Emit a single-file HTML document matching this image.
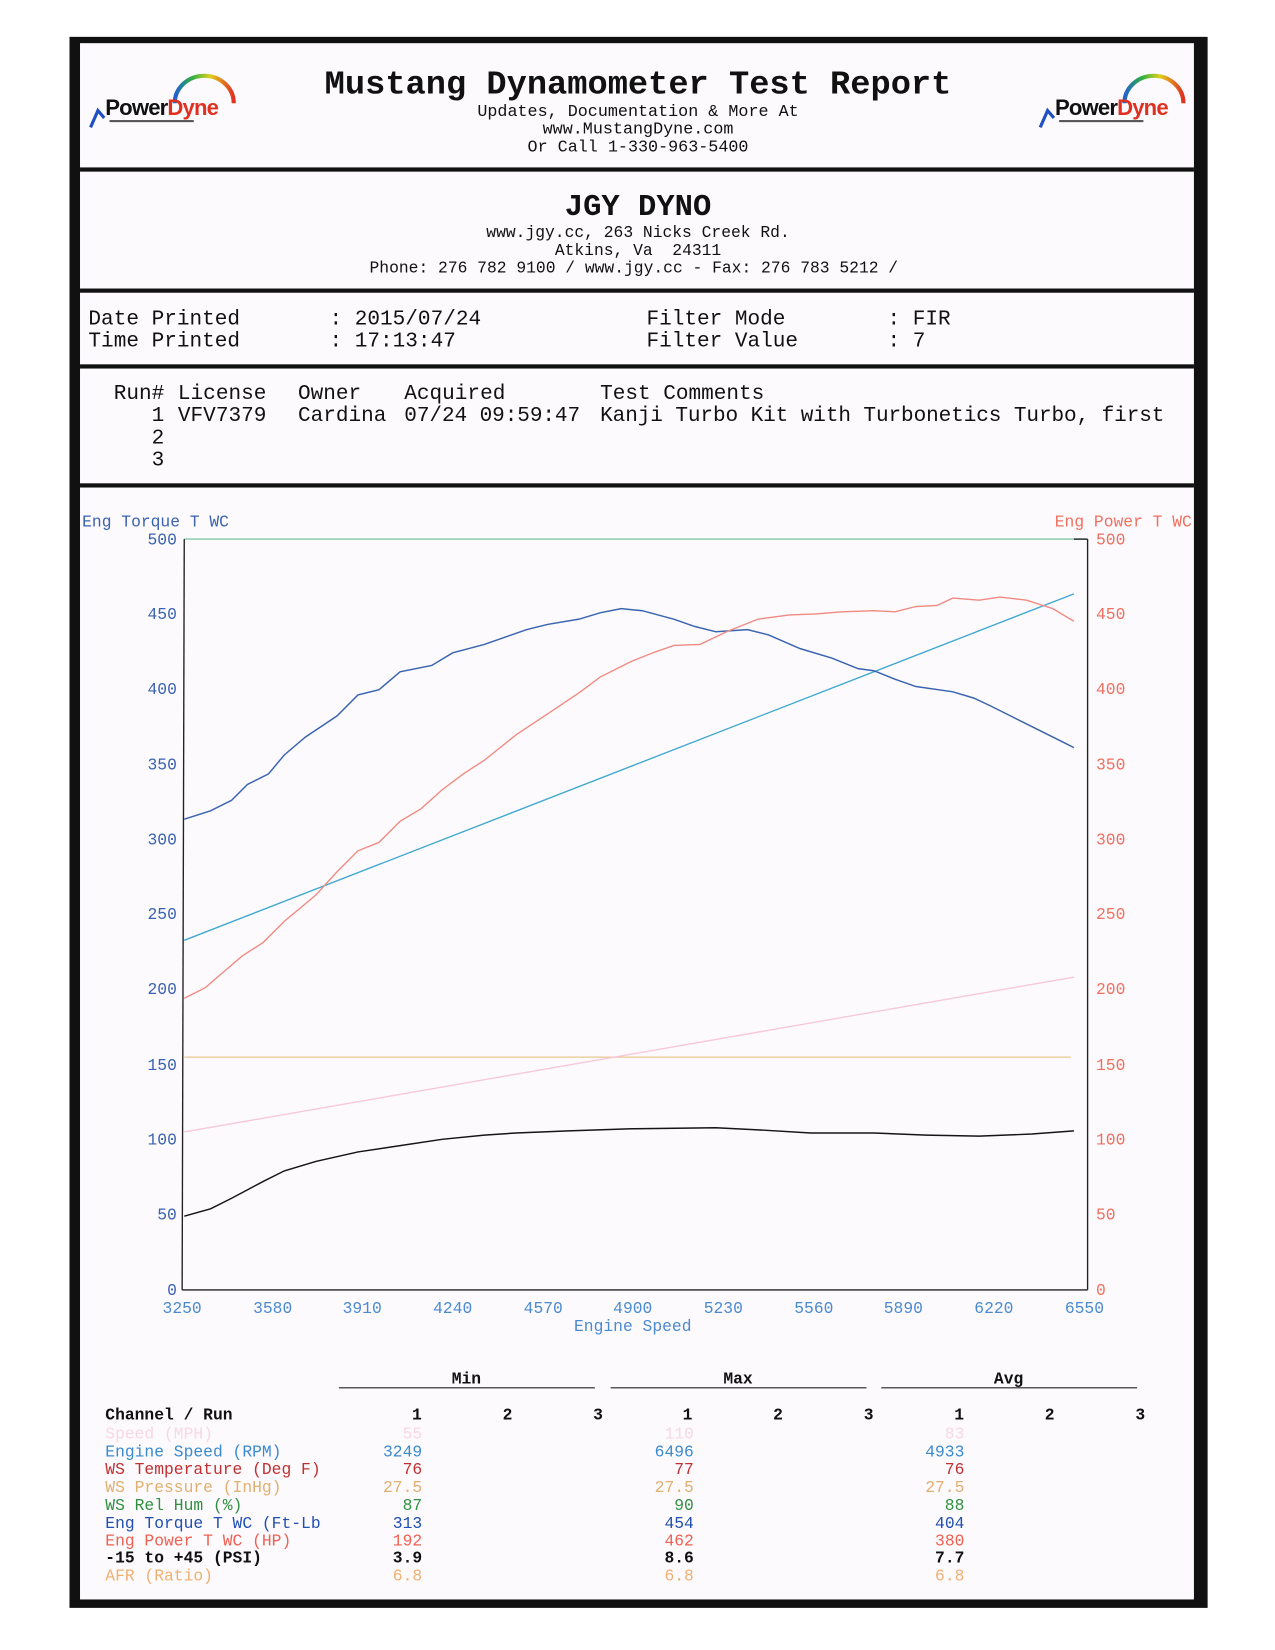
<!DOCTYPE html>
<html><head><meta charset="utf-8"><style>
html,body{margin:0;padding:0;background:#fff;}
svg{display:block;}
text{font-family:"Liberation Mono",monospace;}
</style></head><body>
<svg width="1275" height="1650" viewBox="0 0 1211 1567" preserveAspectRatio="none" xmlns="http://www.w3.org/2000/svg">
<rect x="0" y="0" width="1211" height="1567" fill="#fff"/>
<rect x="66" y="35" width="1081" height="1492" fill="#111"/>
<rect x="76" y="41" width="1058" height="1478" fill="#fcfafd"/>
<rect x="76" y="159" width="1058" height="4" fill="#111"/>
<rect x="76" y="274" width="1058" height="4" fill="#111"/>
<rect x="76" y="346" width="1058" height="4" fill="#111"/>
<rect x="76" y="459" width="1058" height="4" fill="#111"/>

<defs><linearGradient id="rb" x1="0" x2="1"><stop offset="0" stop-color="#2060d0"/><stop offset="0.3" stop-color="#30b040"/><stop offset="0.6" stop-color="#e0d020"/><stop offset="1" stop-color="#e03020"/></linearGradient></defs>
<g id="logo">
<path d="M166 98 A28 26 0 0 1 222 98" fill="none" stroke="url(#rb)" stroke-width="4"/>
<path d="M86 121 L93 105 L99 112" fill="none" stroke="#2050c0" stroke-width="3"/>
<text x="100" y="109" font-weight="bold" font-size="21" fill="#111" style="font-family:'Liberation Sans',sans-serif;font-weight:bold" letter-spacing="-0.8">Power<tspan fill="#e03020">Dyne</tspan></text>
<rect x="104" y="114" width="80" height="2" fill="#555"/>
</g>
<use href="#logo" x="902" y="0"/>

<text x="606" y="89" font-size="32" font-weight="bold" text-anchor="middle" fill="#111">Mustang Dynamometer Test Report</text>
<text x="606" y="110" font-size="15.9" text-anchor="middle" fill="#111">Updates, Documentation &amp; More At</text>
<text x="606" y="127" font-size="15.9" text-anchor="middle" fill="#111">www.MustangDyne.com</text>
<text x="606" y="144" font-size="15.9" text-anchor="middle" fill="#111">Or Call 1-330-963-5400</text>
<text x="606" y="204" font-size="29" font-weight="bold" text-anchor="middle" fill="#111">JGY DYNO</text>
<text x="606" y="225" font-size="15.5" text-anchor="middle" fill="#111">www.jgy.cc, 263 Nicks Creek Rd.</text>
<text x="606" y="242" font-size="15.5" text-anchor="middle" fill="#111" xml:space="preserve">Atkins, Va  24311</text>
<text x="602" y="259" font-size="15.5" text-anchor="middle" fill="#111">Phone: 276 782 9100 / www.jgy.cc - Fax: 276 783 5212 /</text>

<g font-size="20" fill="#111">
<text x="84" y="308">Date Printed</text><text x="313" y="308">: 2015/07/24</text><text x="614" y="308">Filter Mode</text><text x="843" y="308">: FIR</text>
<text x="84" y="329">Time Printed</text><text x="313" y="329">: 17:13:47</text><text x="614" y="329">Filter Value</text><text x="843" y="329">: 7</text>
<text x="108" y="379">Run#</text><text x="169" y="379">License</text><text x="283" y="379">Owner</text><text x="384" y="379">Acquired</text><text x="570" y="379">Test Comments</text>
<text x="144" y="400">1</text><text x="169" y="400">VFV7379</text><text x="283" y="400">Cardina</text><text x="384" y="400" textLength="167">07/24 09:59:47</text><text x="570" y="400" textLength="536">Kanji Turbo Kit with Turbonetics Turbo, first</text>
<text x="144" y="421">2</text>
<text x="144" y="442">3</text>
</g>

<text x="78" y="500" font-size="15.5" fill="#3a62b0">Eng Torque T WC</text>
<text x="1132" y="500" font-size="15.5" fill="#f07060" text-anchor="end">Eng Power T WC</text>
<g font-size="15.5" fill="#3a62b0" text-anchor="end">
<text x="168" y="517">500</text><text x="168" y="588">450</text><text x="168" y="659">400</text><text x="168" y="731">350</text><text x="168" y="802">300</text><text x="168" y="873">250</text><text x="168" y="944">200</text><text x="168" y="1016">150</text><text x="168" y="1087">100</text><text x="168" y="1158">50</text><text x="168" y="1230">0</text>
</g>
<g font-size="15.5" fill="#f07060">
<text x="1041" y="517">500</text><text x="1041" y="588">450</text><text x="1041" y="659">400</text><text x="1041" y="731">350</text><text x="1041" y="802">300</text><text x="1041" y="873">250</text><text x="1041" y="944">200</text><text x="1041" y="1016">150</text><text x="1041" y="1087">100</text><text x="1041" y="1158">50</text><text x="1041" y="1230">0</text>
</g>
<g font-size="15.5" fill="#4a8ad0" text-anchor="middle">
<text x="173" y="1247">3250</text><text x="259" y="1247">3580</text><text x="344" y="1247">3910</text><text x="430" y="1247">4240</text><text x="516" y="1247">4570</text><text x="601" y="1247">4900</text><text x="687" y="1247">5230</text><text x="773" y="1247">5560</text><text x="858" y="1247">5890</text><text x="944" y="1247">6220</text><text x="1030" y="1247">6550</text>
<text x="601" y="1264">Engine Speed</text>
</g>
<line x1="175" y1="512" x2="1033" y2="512" stroke="#80c8a8" stroke-width="1.3"/>
<line x1="175" y1="512" x2="173" y2="1225" stroke="#222" stroke-width="1.3"/>
<line x1="173" y1="1225" x2="1033" y2="1225" stroke="#222" stroke-width="1.3"/>
<line x1="1033" y1="512" x2="1033" y2="1225" stroke="#222" stroke-width="1.3"/>
<line x1="1020" y1="512" x2="1033" y2="512" stroke="#222" stroke-width="1.3"/>

<line x1="175" y1="1004" x2="1017" y2="1004" stroke="#e8c890" stroke-width="1.2"/>
<line x1="175" y1="1075" x2="1020" y2="928" stroke="#f8c8d8" stroke-width="1.3"/>
<line x1="175" y1="893" x2="1020" y2="564" stroke="#40a8d0" stroke-width="1.3"/>
<polyline fill="none" stroke="#3a64b0" stroke-width="1.4" points="175,778 200,770 220,760 235,745 255,735 270,717 290,700 320,680 340,660 360,655 380,638 410,632 430,620 460,612 480,605 500,598 520,593 550,588 570,582 590,578 610,580 640,588 660,595 680,600 710,598 730,603 760,616 790,625 815,635 830,637 850,645 870,652 905,657 925,663 940,670 960,680 990,695 1010,705 1020,710"/>
<polyline fill="none" stroke="#f08a80" stroke-width="1.3" points="175,948 195,938 210,925 230,908 250,895 270,875 300,850 320,828 340,808 360,800 380,780 400,768 420,750 440,735 460,722 490,698 520,678 550,658 570,643 600,628 620,620 640,613 665,612 690,600 720,588 750,584 775,583 800,581 830,580 850,581 870,576 890,575 905,568 930,570 950,567 975,570 1000,578 1020,590"/>
<polyline fill="none" stroke="#151515" stroke-width="1.4" points="175,1155 200,1148 220,1138 250,1122 270,1112 300,1103 340,1094 380,1088 420,1082 460,1078 490,1076 540,1074 600,1072 680,1071 720,1073 770,1076 830,1076 880,1078 930,1079 980,1077 1020,1074"/>

<g font-size="15.5" font-weight="bold" fill="#111" text-anchor="middle">
<text x="443" y="1314">Min</text><text x="701" y="1314">Max</text><text x="958" y="1314">Avg</text>
</g>
<line x1="322" y1="1318" x2="565" y2="1318" stroke="#222" stroke-width="1"/>
<line x1="580" y1="1318" x2="823" y2="1318" stroke="#222" stroke-width="1"/>
<line x1="837" y1="1318" x2="1080" y2="1318" stroke="#222" stroke-width="1"/>
<g font-size="15.5" font-weight="bold" fill="#111" text-anchor="middle">
<text x="396" y="1348">1</text><text x="482" y="1348">2</text><text x="568" y="1348">3</text>
<text x="653" y="1348">1</text><text x="739" y="1348">2</text><text x="825" y="1348">3</text>
<text x="911" y="1348">1</text><text x="997" y="1348">2</text><text x="1083" y="1348">3</text>
</g>
<g font-size="15.5">
<text x="100" y="1348" font-weight="bold" fill="#111">Channel / Run</text>
<text x="100" y="1366" fill="#f8d8e2">Speed (MPH)</text>
<text x="100" y="1383" fill="#3a8ad0">Engine Speed (RPM)</text>
<text x="100" y="1400" fill="#c03030">WS Temperature (Deg F)</text>
<text x="100" y="1417" fill="#e0b070">WS Pressure (InHg)</text>
<text x="100" y="1434" fill="#309040">WS Rel Hum (%)</text>
<text x="100" y="1451" fill="#2050b0">Eng Torque T WC (Ft-Lb</text>
<text x="100" y="1468" fill="#f06050">Eng Power T WC (HP)</text>
<text x="100" y="1484" fill="#111" font-weight="bold">-15 to +45 (PSI)</text>
<text x="100" y="1501" fill="#f0b070">AFR (Ratio)</text>
</g>
<g font-size="15.5" text-anchor="end">
<text x="401" y="1366" fill="#f8d8e2">55</text><text x="659" y="1366" fill="#f8d8e2">110</text><text x="916" y="1366" fill="#f8d8e2">83</text>
<text x="401" y="1383" fill="#3a8ad0">3249</text><text x="659" y="1383" fill="#3a8ad0">6496</text><text x="916" y="1383" fill="#3a8ad0">4933</text>
<text x="401" y="1400" fill="#c03030">76</text><text x="659" y="1400" fill="#c03030">77</text><text x="916" y="1400" fill="#c03030">76</text>
<text x="401" y="1417" fill="#e0b070">27.5</text><text x="659" y="1417" fill="#e0b070">27.5</text><text x="916" y="1417" fill="#e0b070">27.5</text>
<text x="401" y="1434" fill="#309040">87</text><text x="659" y="1434" fill="#309040">90</text><text x="916" y="1434" fill="#309040">88</text>
<text x="401" y="1451" fill="#2050b0">313</text><text x="659" y="1451" fill="#2050b0">454</text><text x="916" y="1451" fill="#2050b0">404</text>
<text x="401" y="1468" fill="#f06050">192</text><text x="659" y="1468" fill="#f06050">462</text><text x="916" y="1468" fill="#f06050">380</text>
<text x="401" y="1484" fill="#111" font-weight="bold">3.9</text><text x="659" y="1484" fill="#111" font-weight="bold">8.6</text><text x="916" y="1484" fill="#111" font-weight="bold">7.7</text>
<text x="401" y="1501" fill="#f0b070">6.8</text><text x="659" y="1501" fill="#f0b070">6.8</text><text x="916" y="1501" fill="#f0b070">6.8</text>
</g>
</svg>
</body></html>
